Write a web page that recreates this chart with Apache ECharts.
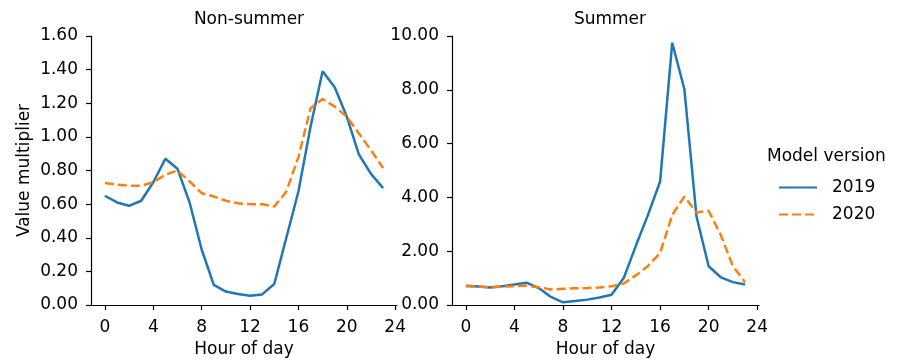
<!DOCTYPE html>
<html><head><meta charset="utf-8">
<script src="https://cdn.jsdelivr.net/npm/echarts@6/dist/echarts.min.js"></script>
<style>html,body{margin:0;padding:0;background:#fff}#c{width:904px;height:360px}</style>
</head><body><div id="c"></div>
<script>
const hours = [0,1,2,3,4,5,6,7,8,9,10,11,12,13,14,15,16,17,18,19,20,21,22,23];
const xTicks = [0,4,8,12,16,20,24];
const nonSummer2019 = [0.65,0.61,0.59,0.62,0.73,0.87,0.81,0.61,0.33,0.12,0.08,0.065,0.055,0.063,0.125,0.40,0.675,1.06,1.39,1.295,1.12,0.895,0.78,0.695];
const nonSummer2020 = [0.725,0.715,0.71,0.71,0.73,0.775,0.80,0.735,0.665,0.645,0.62,0.605,0.60,0.60,0.585,0.675,0.88,1.17,1.225,1.18,1.12,1.02,0.92,0.815];
const summer2019 = [0.72,0.69,0.65,0.70,0.76,0.83,0.63,0.30,0.10,0.15,0.20,0.28,0.38,1.0,2.2,3.35,4.59,9.75,8.02,3.29,1.44,1.03,0.85,0.76];
const summer2020 = [0.70,0.68,0.67,0.68,0.70,0.72,0.66,0.58,0.60,0.62,0.63,0.65,0.70,0.80,1.1,1.45,1.93,3.35,4.03,3.44,3.50,2.6,1.44,0.85];
const panelTitles = ['Non-summer','Summer'];
const seriesNames = ['2019','2020'];

const FONT = 'DejaVu Sans';
const blue = '#1f77b4', orange = '#ff7f0e';
const pairs = a => hours.map((h,i)=>[h,a[i]]);
const chart = echarts.init(document.getElementById('c'));

function xAxis(idx){
  return {
    type:'value', gridIndex:idx, min:-1.15, max:24.15,
    name:'Hour of day', nameLocation:'middle', nameGap:35,
    nameTextStyle:{fontFamily:FONT,fontSize:17,color:'#000'},
    axisLine:{show:true,onZero:false,lineStyle:{color:'#000',width:1.2}},
    axisTick:{show:true,length:5,lineStyle:{color:'#000',width:1.2},customValues:xTicks},
    axisLabel:{fontFamily:FONT,fontSize:17,color:'#000',margin:14,customValues:xTicks},
    splitLine:{show:false}
  };
}
function yAxis(idx,max,interval,name){
  return {
    type:'value', gridIndex:idx, min:0, max:max, interval:interval,
    name:name, nameLocation:'middle', nameGap:58,
    nameTextStyle:{fontFamily:FONT,fontSize:17,color:'#000'},
    axisLine:{show:true,onZero:false,lineStyle:{color:'#000',width:1.2}},
    axisTick:{show:true,length:5,lineStyle:{color:'#000',width:1.2}},
    axisLabel:{fontFamily:FONT,fontSize:17,color:'#000',margin:13,formatter:v=>v.toFixed(2)},
    splitLine:{show:false}
  };
}
function line(name,data,xi,color,dashed){
  return {
    type:'line', name:name, xAxisIndex:xi, yAxisIndex:xi, data:pairs(data),
    symbol:'none', symbolSize:0, showSymbol:false,
    lineStyle:{color:color,width:2.5,type:dashed?[9,4]:'solid'},
    itemStyle:{color:color}, animation:false
  };
}
chart.setOption({
  animation:false,
  title:[
    {text:panelTitles[0],left:244,top:6,textAlign:'center',textStyle:{fontFamily:FONT,fontSize:17,fontWeight:'normal',color:'#000'}},
    {text:panelTitles[1],left:605,top:6,textAlign:'center',textStyle:{fontFamily:FONT,fontSize:17,fontWeight:'normal',color:'#000'}}
  ],
  grid:[
    {left:91,top:36,width:306,height:269,containLabel:false,outerBoundsMode:'none'},
    {left:452,top:36,width:307,height:269,containLabel:false,outerBoundsMode:'none'}
  ],
  xAxis:[xAxis(0),xAxis(1)],
  yAxis:[yAxis(0,1.6,0.2,'Value multiplier'),yAxis(1,10,2,'')],
  legend:{
    orient:'vertical', left:773, top:174, itemWidth:38, itemHeight:14, itemGap:10,
    data:seriesNames,
    itemStyle:{opacity:0},
    textStyle:{fontFamily:FONT,fontSize:17,color:'#000',padding:[0,0,0,10]}
  },
  graphic:[{type:'text',left:767,top:148,style:{text:'Model version',font:'17px "DejaVu Sans"',fill:'#000'}}],
  series:[
    line(seriesNames[0],nonSummer2019,0,blue,false),
    line(seriesNames[1],nonSummer2020,0,orange,true),
    line(seriesNames[0],summer2019,1,blue,false),
    line(seriesNames[1],summer2020,1,orange,true)
  ]
});
</script></body></html>
